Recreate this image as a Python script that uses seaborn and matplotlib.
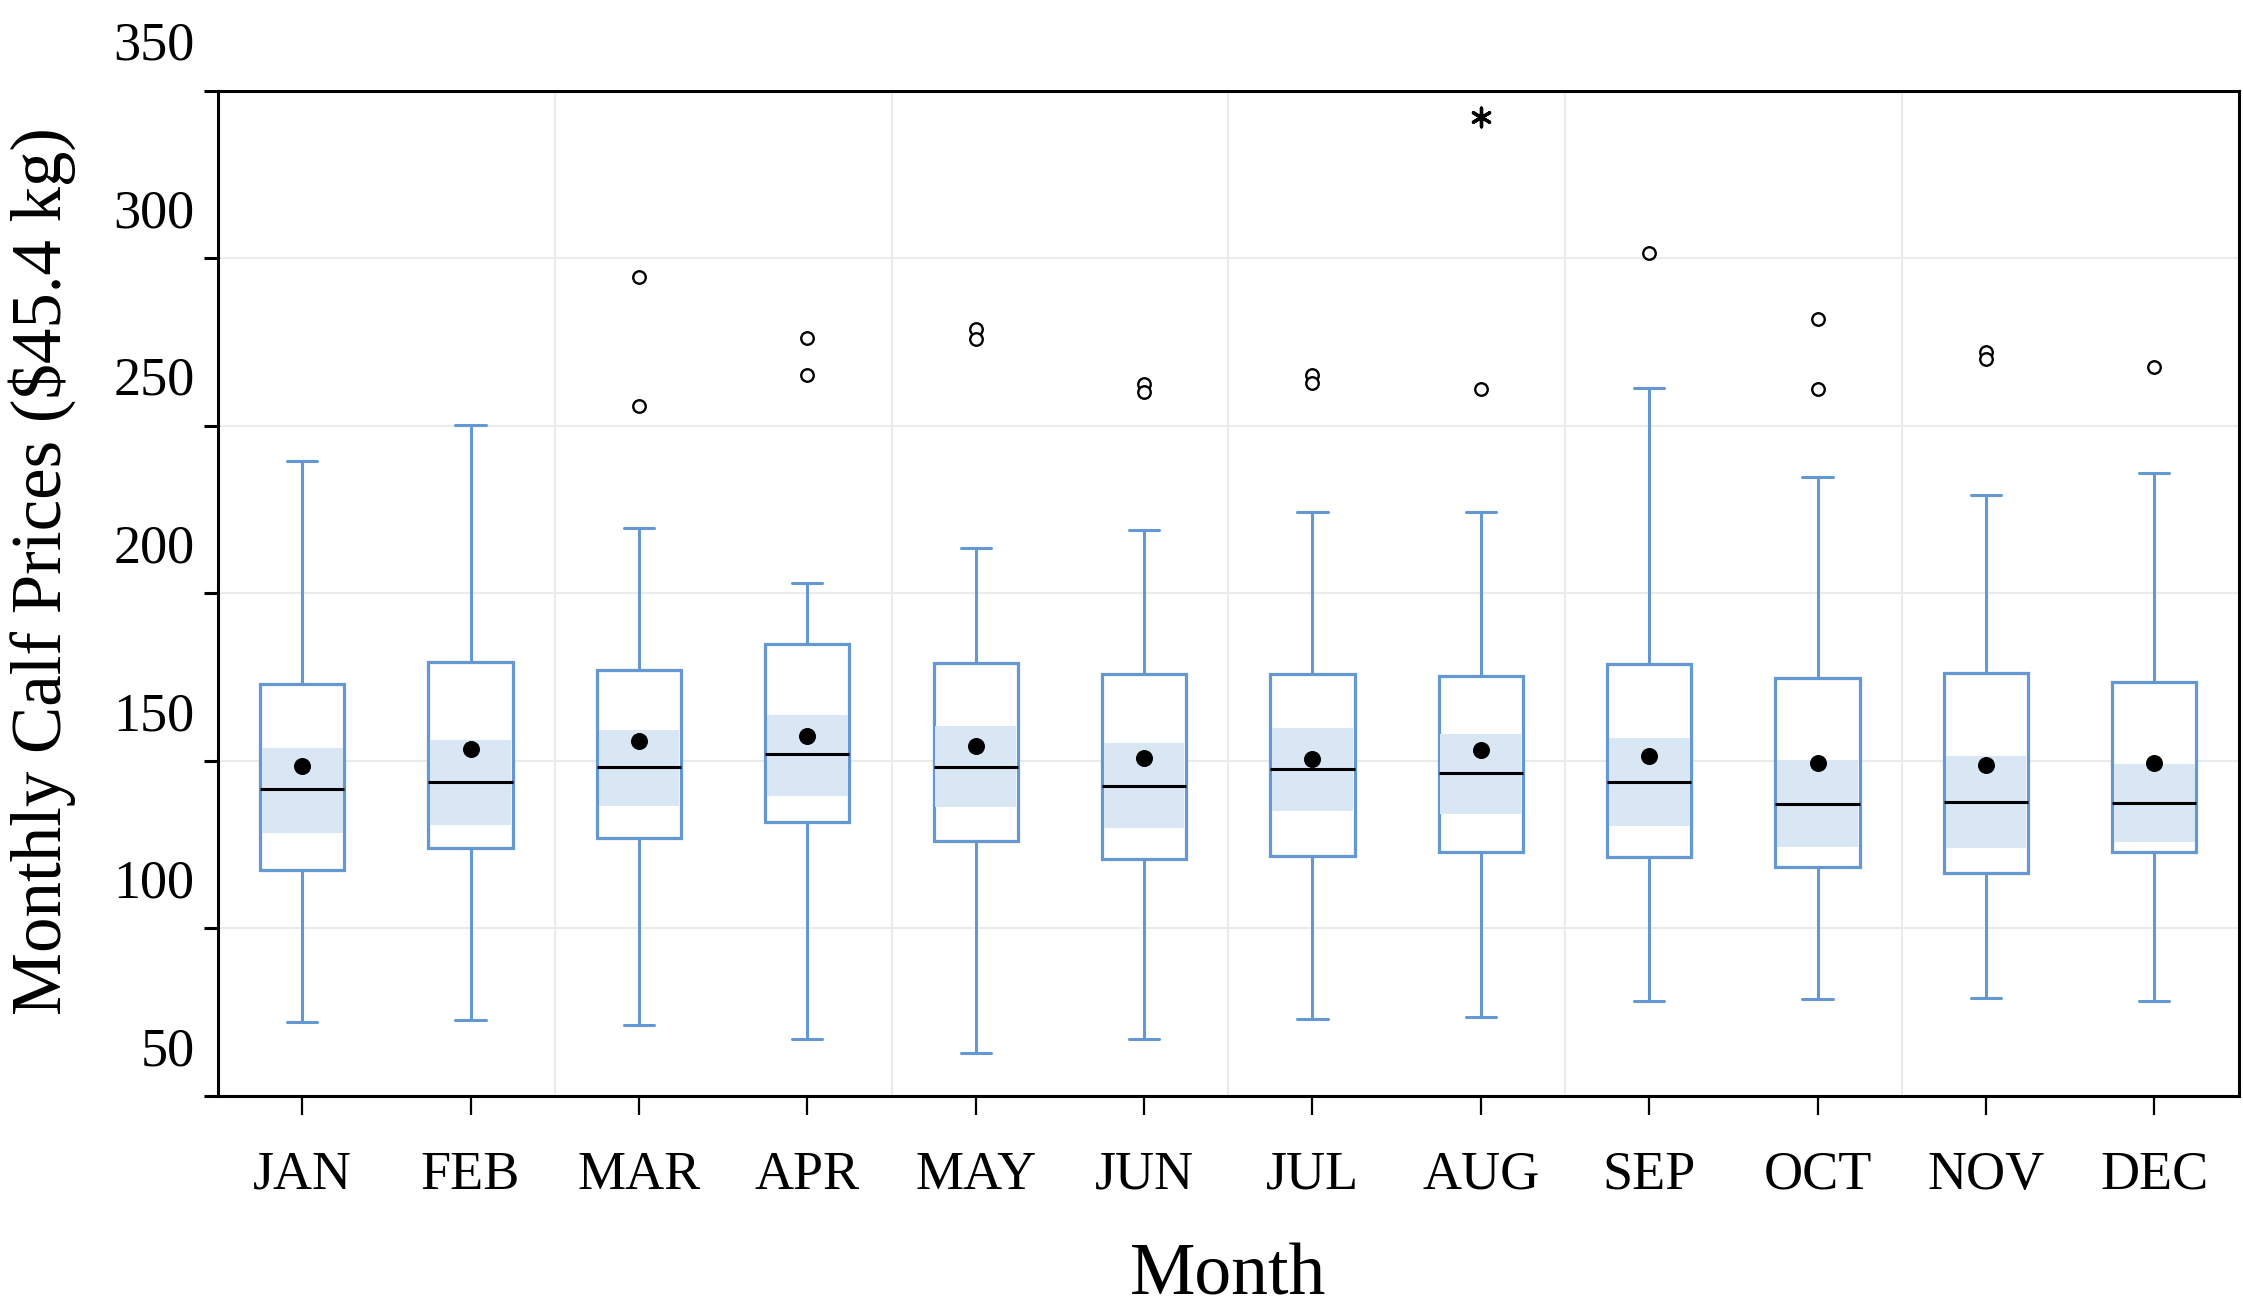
import matplotlib
matplotlib.use("Agg")
import matplotlib.pyplot as plt
import matplotlib.transforms as mtransforms
import pandas as pd
import seaborn as sns

# %%
# resumo por mes
meses = ['JAN', 'FEB', 'MAR', 'APR', 'MAY', 'JUN', 'JUL', 'AUG', 'SEP', 'OCT', 'NOV', 'DEC']
media = [148.5, 153.5, 155.8, 157.4, 154.5, 150.8, 150.6, 153.1, 151.4, 149.4, 148.8, 149.4]
mediana = [141.5, 143.8, 148.3, 151.9, 148.3, 142.6, 147.5, 146.3, 143.8, 137.2, 137.8, 137.4]
q1 = [117.5, 123.9, 127.0, 131.8, 126.2, 120.8, 121.5, 122.9, 121.2, 118.3, 116.5, 122.9]
q3 = [173.0, 179.6, 177.1, 185.0, 179.2, 175.8, 176.0, 175.4, 179.0, 174.8, 176.1, 173.4]
bigode_inf = [72.2, 72.6, 71.2, 66.9, 62.7, 67.1, 73.1, 73.5, 78.4, 78.8, 79.3, 78.4]
bigode_sup = [239.4, 250.3, 219.5, 203.2, 213.5, 218.9, 224.2, 224.2, 261.3, 234.6, 229.4, 235.8]
ic_inf = [128.5, 130.8, 136.6, 139.5, 136.3, 129.9, 135.1, 134.1, 130.6, 124.3, 123.9, 125.8]
ic_sup = [153.9, 156.2, 159.3, 163.7, 160.3, 155.2, 159.7, 157.9, 156.8, 150.2, 151.4, 149.2]
outliers = [[], [], [294.4, 255.9], [276.2, 265.0], [278.8, 275.8], [262.3, 260.2],
            [265.0, 262.7], [261.1], [301.4], [281.8, 261.1], [272.0, 270.0], [267.5]]
extremo_mes = ['AUG']
extremo_valor = [342.1]

azul = '#6398D2'
azul_claro = '#D9E6F3'

# %%
sns.set_style('white')
plt.rcParams['font.family'] = ['Liberation Serif', 'DejaVu Serif']
plt.rcParams['text.color'] = 'black'
plt.rcParams['axes.labelcolor'] = 'black'

fig = plt.figure(figsize=(22.43, 13.13), dpi=100)
ax = fig.add_axes([0.0972, 0.1653, 0.9008, 0.7657])

pos = list(range(len(meses)))
stats = []
for i in pos:
    stats.append({'med': mediana[i], 'q1': q1[i], 'q3': q3[i],
                  'whislo': bigode_inf[i], 'whishi': bigode_sup[i],
                  'fliers': outliers[i], 'label': meses[i]})

ax.bxp(stats, positions=pos, widths=0.5, capwidths=0.18, patch_artist=True,
       boxprops=dict(facecolor='white', edgecolor=azul, linewidth=2.3, zorder=2),
       whiskerprops=dict(color=azul, linewidth=2.2, zorder=2),
       capprops=dict(color=azul, linewidth=2.2, zorder=2),
       medianprops=dict(color='black', linewidth=2.2, zorder=5),
       flierprops=dict(marker='o', markerfacecolor='white', markeredgecolor='black',
                       markersize=9, markeredgewidth=1.7, zorder=5))

# faixa de confianca da mediana
alturas = [s - i for s, i in zip(ic_sup, ic_inf)]
ax.bar(pos, alturas, bottom=ic_inf, width=0.48, color=azul_claro, zorder=3, linewidth=0)

df_media = pd.DataFrame({'pos': pos, 'media': media})
sns.scatterplot(data=df_media, x='pos', y='media', ax=ax, color='black', s=150,
                edgecolor='black', linewidth=0, zorder=6)

df_ext = pd.DataFrame({'pos': [meses.index(m) for m in extremo_mes], 'valor': extremo_valor})
sns.scatterplot(data=df_ext, x='pos', y='valor', ax=ax, marker=(6, 2, 0), s=180,
                color='black', linewidth=2.4, zorder=6)

ax.set_xlim(-0.5, 11.5)
ax.set_ylim(50, 350)
ax.set_xticks(pos)
ax.set_xticklabels(meses)
ax.set_yticks(range(50, 351, 50))
ax.set_xticks([1.5, 3.5, 5.5, 7.5, 9.5], minor=True)

ax.grid(axis='y', which='major', color='#EBEBEB', linewidth=1.5, zorder=0)
ax.grid(axis='x', which='minor', color='#EBEBEB', linewidth=1.5, zorder=0)
ax.set_axisbelow(True)

for lado in ['left', 'right', 'top', 'bottom']:
    ax.spines[lado].set_visible(True)
    ax.spines[lado].set_color('black')
    ax.spines[lado].set_linewidth(2.2)

ax.tick_params(axis='y', which='major', direction='out', length=10, width=2.2,
               labelsize=39, pad=7, left=True, colors='black')
ax.tick_params(axis='x', which='major', direction='out', length=14, width=1.6,
               labelsize=39, pad=25, bottom=True, colors='black')
ax.tick_params(axis='x', which='minor', length=0)

# rotulos do eixo y deslocados para cima, como no original
desloc = mtransforms.ScaledTranslation(0, 0.50, fig.dpi_scale_trans)
for tick in ax.yaxis.get_major_ticks():
    tick.label1.set_transform(tick.label1.get_transform() + desloc)

ax.set_xlabel('Month', fontsize=53, va='bottom', color='black')
ax.xaxis.set_label_coords(0.5, -0.213)
ax.set_ylabel('Monthly Calf Prices ($45.4 kg)', fontsize=51, va='center', color='black')
ax.yaxis.set_label_coords(-0.087, 0.522)

fig.savefig('out.png', dpi=100)
